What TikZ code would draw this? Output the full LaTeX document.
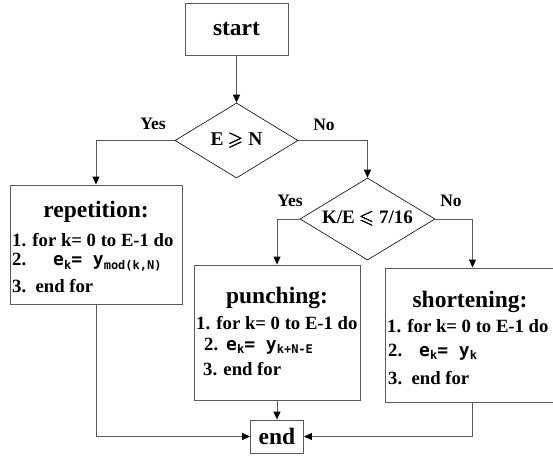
\documentclass[tikz,border=0pt]{standalone}
\usepackage{amsmath,amssymb}
\usepackage{fontspec}
\setmainfont{Liberation Serif}
\newfontfamily\eqfont{DejaVu Sans Mono}
\usetikzlibrary{shapes.geometric,arrows.meta}
\newcommand{\ttlf}{\fontsize{23.5}{27}\selectfont\bfseries}
\newcommand{\linef}{\fontsize{18.7}{21}\selectfont\bfseries}
\newcommand{\lblf}{\fontsize{17.5}{20}\selectfont\bfseries}
\newcommand{\eqf}{\fontsize{18}{20}\selectfont\eqfont\bfseries}
\newcommand{\subf}[1]{\raisebox{-3.5pt}{\fontsize{12}{13}\selectfont\eqfont\bfseries #1}}
\begin{document}
\begin{tikzpicture}[x=1pt,y=-1pt,
  box/.style={draw=black!65,line width=0.9pt,inner sep=0pt,fill=white},
  dia/.style={draw=black,line width=0.6pt,diamond,inner sep=0pt},
  conn/.style={draw=black!65,line width=0.9pt,-{Triangle[color=black,length=8pt,width=7pt]}},
  txt/.style={inner sep=0pt,anchor=west}]
\clip (0,0) rectangle (553,457);
\fill[white] (0,0) rectangle (553,457);
% boxes
\node[box,minimum width=103,minimum height=52] (start) at (236.5,29) {\ttlf start};
\node[dia,minimum width=123,minimum height=75] (d1) at (236.5,140.5) {};
\node (d1t) at (d1) {\fontsize{19.5}{22}\selectfont\bfseries E $\pmb{\geqslant}$ N};
\node[dia,minimum width=135,minimum height=82] (d2) at (367.5,219) {};
\node (d2t) at (d2) {\fontsize{19}{22}\selectfont\bfseries K/E $\pmb{\leqslant}$ 7/16};
\node[box,minimum width=172,minimum height=119] (rep) at (96,244.5) {};
\node[box,minimum width=166,minimum height=135] (pun) at (277,332.5) {};
\node[box,minimum width=175,minimum height=134] (sh) at (472.5,335) {};
\node[box,minimum width=53,minimum height=33] (end) at (277,436.5) {\ttlf end};
% repetition text
\node (rept) at (96,212) {\ttlf repetition:};
\node[txt] (rep1) at (12,240) {\linef 1. for k= 0 to E-1 do};
\node[txt] (rep2) at (12,262) {\linef 2.\hspace{27pt}{\eqf e\subf{k}= y\subf{mod(k,N)}}};
\node[txt] (rep3) at (12,286) {\linef 3.\ \ end for};
% punching text
\node (punt) at (277,298) {\ttlf punching:};
\node[txt] (pun1) at (196,323) {\linef 1. for k= 0 to E-1 do};
\node[txt] (pun2) at (204,346) {\linef 2.\hspace{8pt}{\eqf e\subf{k}= y\subf{k+N-E}}};
\node[txt] (pun3) at (203,369) {\linef 3. end for};
% shortening text
\node (sht) at (470,302) {\ttlf shortening:};
\node[txt] (sh1) at (387,326) {\linef 1. for k= 0 to E-1 do};
\node[txt] (sh2) at (388,352) {\linef 2.\hspace{17pt}{\eqf e\subf{k}=\ y\subf{k}}};
\node[txt] (sh3) at (388,378) {\linef 3.\ \ end for};
% labels
\node (y1) at (153,124) {\lblf Yes};
\node (n1) at (324,125) {\lblf No};
\node (y2) at (290,201) {\lblf Yes};
\node (n2) at (451,201) {\lblf No};
% connectors
\draw[conn] (start) -- (d1);
\draw[conn] (d1.west) -| (rep.north);
\draw[conn] (d1.east) -| (d2.north);
\draw[conn] (d2.west) -| (pun.north);
\draw[conn] (d2.east) -| (sh.north);
\draw[conn] (pun.south) -- (end.north);
\draw[conn] (rep.south) |- (end.west);
\draw[conn] (sh.south) |- (end.east);
\end{tikzpicture}
\end{document}
